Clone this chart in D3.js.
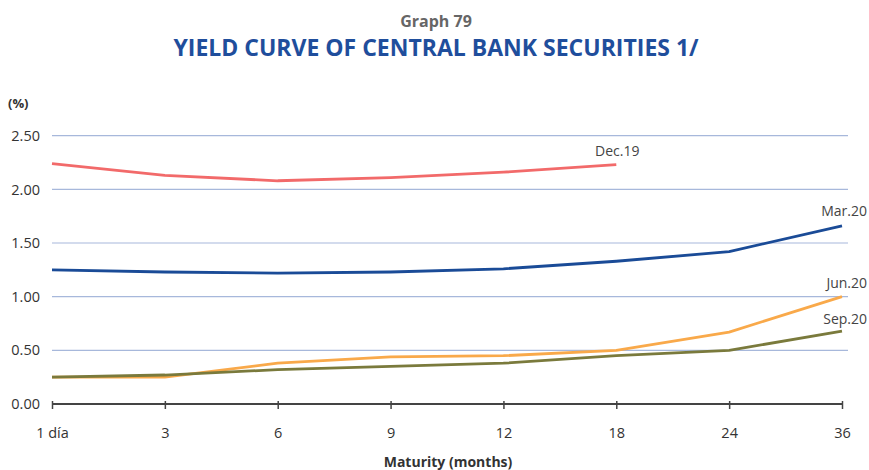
<!DOCTYPE html>
<html>
<head>
<meta charset="utf-8">
<script src="https://cdn.jsdelivr.net/npm/d3@7/dist/d3.min.js"></script>
<style>
  body { margin: 0; background: #fff; }
  svg { display: block; font-family: "Open Sans", "Noto Sans", sans-serif; }
</style>
</head>
<body>
<svg id="chart" width="869" height="470"></svg>
<script>
// Maturities (x categories)
const maturities = ["1 día", "3", "6", "9", "12", "18", "24", "36"];
// Yield by maturity for each curve (%)
const dec19 = [2.24, 2.13, 2.08, 2.11, 2.16, 2.23];
const mar20 = [1.25, 1.23, 1.22, 1.23, 1.26, 1.33, 1.42, 1.66];
const jun20 = [0.25, 0.25, 0.38, 0.44, 0.45, 0.50, 0.67, 1.00];
const sep20 = [0.25, 0.27, 0.32, 0.35, 0.38, 0.45, 0.50, 0.68];
const yTicks = [0, 0.5, 1.0, 1.5, 2.0, 2.5];

const series = [
  { name: "Dec.19", values: dec19, color: "#f26a6a" },
  { name: "Mar.20", values: mar20, color: "#1a4b97" },
  { name: "Jun.20", values: jun20, color: "#f9a94a" },
  { name: "Sep.20", values: sep20, color: "#7a7a3c" }
];

const svg = d3.select("#chart");
const plotLeft = 52, plotRight = 842, plotTop = 135.7, plotBottom = 404;

const x = d3.scalePoint().domain(maturities).range([plotLeft, plotRight]);
const y = d3.scaleLinear().domain([0, 2.5]).range([plotBottom, plotTop]);

// Titles
svg.append("text").attr("x", 436).attr("y", 27).attr("text-anchor", "middle")
  .attr("font-size", 16).attr("font-weight", 700).attr("fill", "#666")
  .text("Graph 79");
svg.append("text").attr("x", 436).attr("y", 56).attr("text-anchor", "middle")
  .attr("font-size", 23).attr("font-weight", 700).attr("fill", "#1f4e9c")
  .text("YIELD CURVE OF CENTRAL BANK SECURITIES 1/");

svg.append("text").attr("x", 8).attr("y", 108)
  .attr("font-size", 13).attr("font-weight", 700).attr("fill", "#333")
  .text("(%)");

// Horizontal gridlines
svg.append("g").selectAll("line").data(yTicks.filter(d => d > 0)).join("line")
  .attr("x1", plotLeft).attr("x2", 848)
  .attr("y1", d => y(d)).attr("y2", d => y(d))
  .attr("stroke", "#a7b8db").attr("stroke-width", 1.2);

// Y axis labels
const yAxis = d3.axisLeft(y).tickValues(yTicks).tickFormat(d3.format(".2f")).tickSize(0).tickPadding(0);
svg.append("g").attr("transform", "translate(40,0)").call(yAxis)
  .call(g => g.select(".domain").remove())
  .call(g => g.selectAll("text").attr("font-size", 14.5).attr("fill", "#333")
    .attr("font-family", "Open Sans, Noto Sans, sans-serif"));

// X axis
const xAxis = d3.axisBottom(x).tickSize(6).tickSizeOuter(0).tickPadding(18);
const xg = svg.append("g").attr("transform", `translate(0,${plotBottom})`).call(xAxis);
xg.select(".domain").attr("stroke", "#444").attr("stroke-width", 2)
  .attr("d", `M${plotLeft},0H${plotRight}`);
xg.selectAll(".tick line").attr("stroke", "#444").attr("stroke-width", 1.5).attr("y1", -3).attr("y2", 5);
xg.selectAll("text").attr("font-size", 14.5).attr("fill", "#333")
  .attr("font-family", "Open Sans, Noto Sans, sans-serif");

svg.append("text").attr("x", 448).attr("y", 467).attr("text-anchor", "middle")
  .attr("font-size", 14).attr("font-weight", 700).attr("fill", "#333")
  .text("Maturity (months)");

// Curves
const line = d3.line().x((d, i) => x(maturities[i])).y(d => y(d));
svg.append("g").selectAll("path").data(series).join("path")
  .attr("d", d => line(d.values))
  .attr("fill", "none").attr("stroke", d => d.color).attr("stroke-width", 2.8)
  .attr("stroke-linejoin", "round");

// Curve labels
const labelPos = {
  "Dec.19": { dx: 1, dy: -9, anchor: "middle" },
  "Mar.20": { dx: 25, dy: -10, anchor: "end" },
  "Jun.20": { dx: 25, dy: -9, anchor: "end" },
  "Sep.20": { dx: 25, dy: -7, anchor: "end" }
};
series.forEach(s => {
  const i = s.values.length - 1;
  const p = labelPos[s.name];
  svg.append("text")
    .attr("x", x(maturities[i]) + p.dx)
    .attr("y", y(s.values[i]) + p.dy)
    .attr("text-anchor", p.anchor)
    .attr("font-size", 14).attr("fill", "#444")
    .text(s.name);
});
</script>
</body>
</html>
